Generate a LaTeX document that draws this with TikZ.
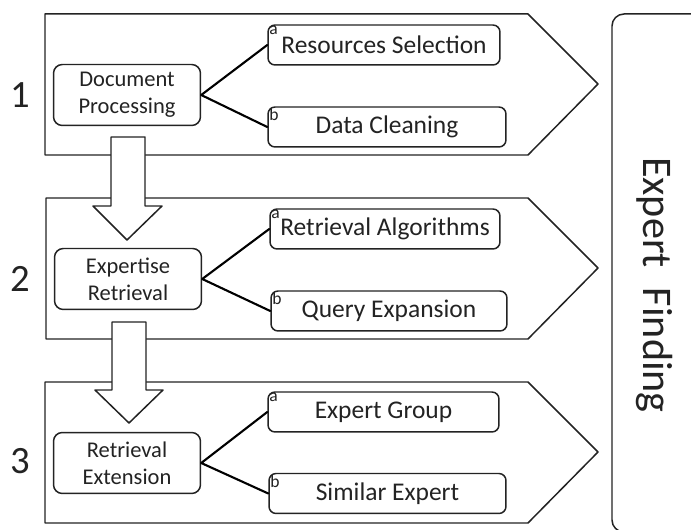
\documentclass[tikz,border=0pt]{standalone}
\usepackage{fontspec}
\setmainfont{Carlito}
\usetikzlibrary{positioning,calc}
\definecolor{ink}{RGB}{35,35,35}

\begin{document}
\begin{tikzpicture}[x=0.02cm, y=-0.02cm, line join=round, line cap=round,
    panel/.style={draw=ink, line width=0.85pt, fill=white},
    mainbox/.style={draw=ink, line width=0.85pt, rounded corners=5pt, fill=white, align=center,
        minimum width=2.94cm, minimum height=1.22cm, inner sep=0pt, text=ink,
        font=\fontsize{12.8}{15.5}\selectfont},
    subbox/.style={draw=ink, line width=0.85pt, rounded corners=4pt, fill=white,
        minimum height=0.8cm, inner sep=0pt, text=ink, font=\fontsize{14.5}{16}\selectfont},
    tag/.style={anchor=north west, inner sep=1pt, text=ink, font=\fontsize{10}{10}\selectfont},
    link/.style={draw=black, line width=1.2pt},
    stepno/.style={text=ink, font=\fontsize{22}{22}\selectfont}]
    \useasboundingbox (0,0) rectangle (691,530);

    %Outer Box
    \begin{scope}
        \clip (0,0) rectangle (691,530);
        \draw[draw=ink, line width=0.85pt, rounded corners=0.24cm] (612,14) rectangle (720,532);
    \end{scope}
    \node[rotate=-90, text=ink, font=\fontsize{24}{24}\selectfont] (goal) at (655,285) {Expert\hspace{0.25em} Finding};

    %Panels
    \draw[panel] (45,14) -- (528,14) -- (598,84) -- (528,155) -- (45,155) -- cycle;
    \draw[panel] (46,198) -- (528,198) -- (598,268) -- (528,339) -- (46,339) -- cycle;
    \draw[panel] (45,382) -- (528,382) -- (598,452) -- (528,523) -- (45,523) -- cycle;

    %Block Arrows
    \draw[panel] (111,137) -- (145,137) -- (145,206) -- (162,206) -- (127,240) -- (93,206) -- (111,206) -- cycle;
    \draw[panel] (112,322) -- (146,322) -- (146,390) -- (163,390) -- (129,423) -- (95,390) -- (112,390) -- cycle;

    %Step Numbers
    \node[stepno] (n1) at (20,95) {1};
    \node[stepno] (n2) at (20,279) {2};
    \node[stepno] (n3) at (20,461) {3};

    %Main Boxes
    \node[mainbox] (doc) at (127,95) {Document\\Processing};
    \node[mainbox] (exp) at (128,279) {Expertise\\Retrieval};
    \node[mainbox] (ext) at (127,463) {Retrieval\\Extension};

    %Sub Boxes
    \node[subbox, minimum width=4.64cm, label={[tag]north west:a}] (res) at (384,45) {Resources Selection};
    \node[subbox, minimum width=4.76cm, label={[tag]north west:b}] (cln) at (387,127) {Data Cleaning};
    \node[subbox, minimum width=4.60cm, label={[tag]north west:a}] (alg) at (385,229) {Retrieval Algorithms};
    \node[subbox, minimum width=4.72cm, label={[tag]north west:b}] (qry) at (389,311) {Query Expansion};
    \node[subbox, minimum width=4.62cm, label={[tag]north west:a}] (grp) at (383.5,412) {Expert Group};
    \node[subbox, minimum width=4.74cm, label={[tag]north west:b}] (sim) at (387.5,493.5) {Similar Expert};

    %Links
    \draw[link] (res.west) -- (doc.east) -- (cln.west);
    \draw[link] (alg.west) -- (exp.east) -- (qry.west);
    \draw[link] (grp.west) -- (ext.east) -- (sim.west);
\end{tikzpicture}
\end{document}
